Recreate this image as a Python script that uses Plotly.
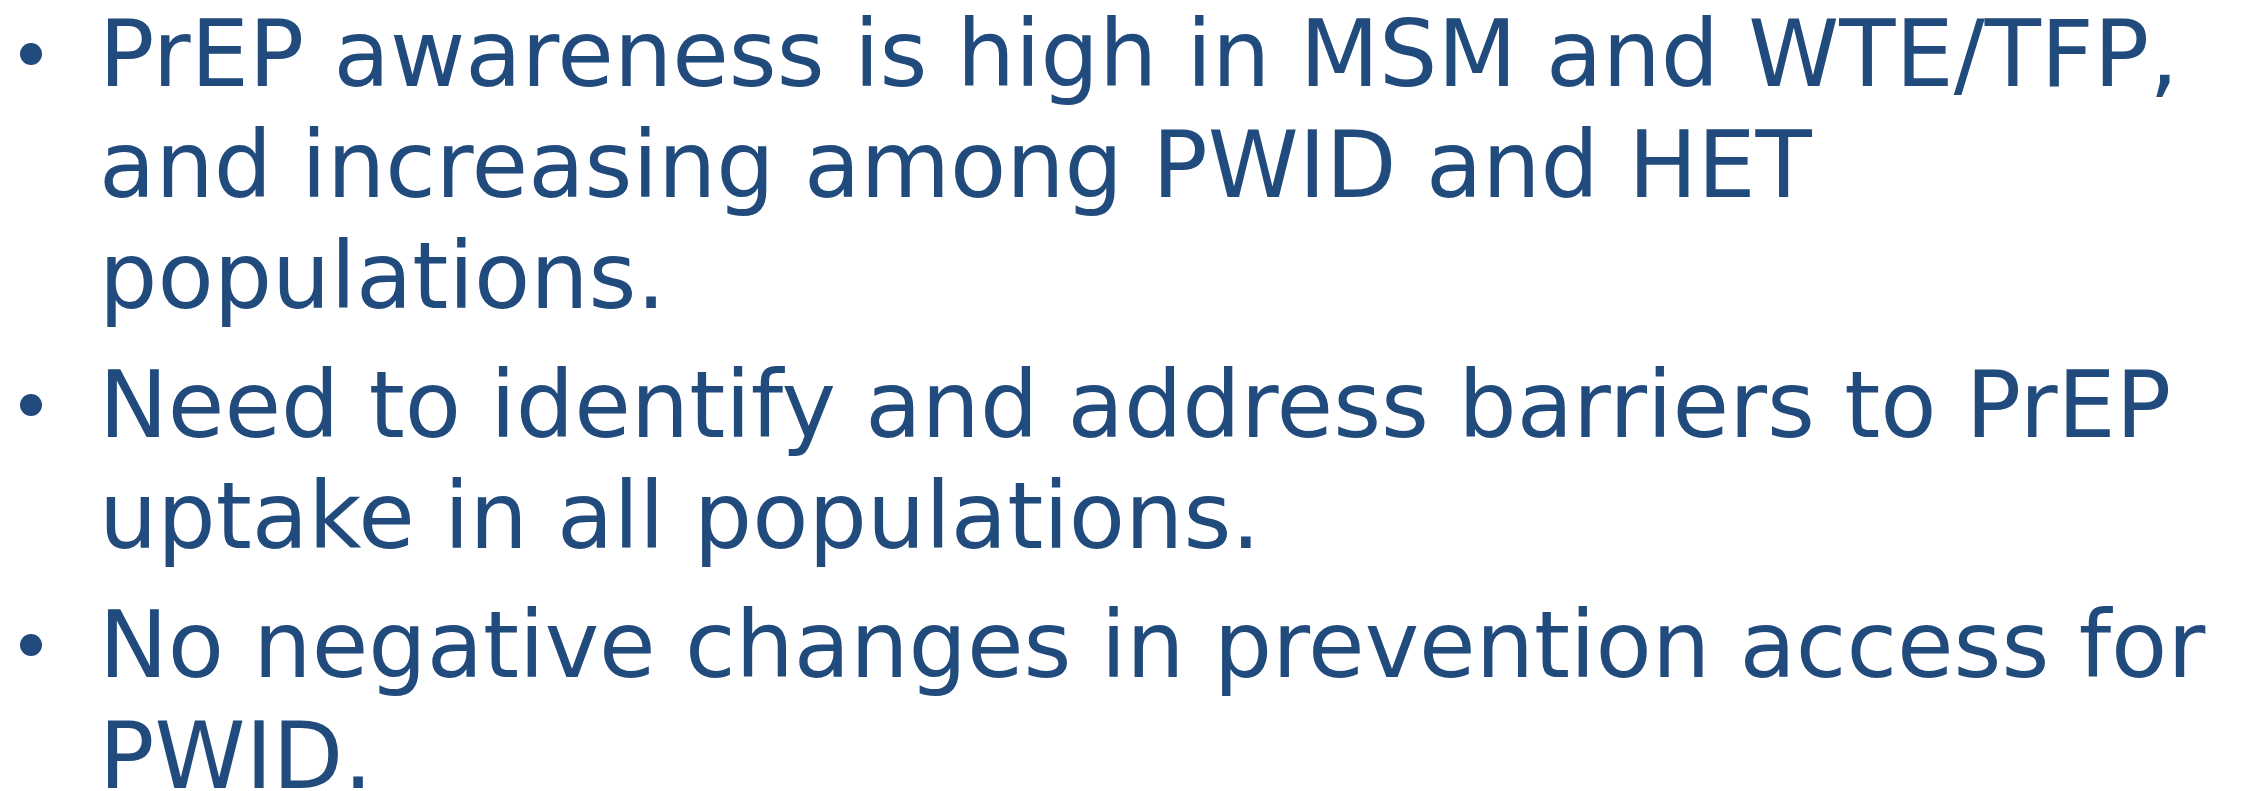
import plotly.graph_objects as go

# ---- content ----
bullet_lines = [
    ["PrEP awareness is high in MSM and WTE/TFP,",
     "and increasing among PWID and HET",
     "populations."],
    ["Need to identify and address barriers to PrEP",
     "uptake in all populations."],
    ["No negative changes in prevention access for",
     "PWID."],
]

# ---- layout constants (pixels) ----
W, H = 2241, 791
TEXT_X = 98
BULLET_X = 31
FIRST_BASELINE = 86
LINE_STEP = 111
PARA_GAP = 18
FONT_SIZE = 92
COLOR = "#214A7D"
FONT = "DejaVu Sans"
BASELINE_OFFSET = 0.25 * FONT_SIZE  # baseline distance above annotation bottom
BULLET_RISE = 32


def px_x(v):
    return v / W


def px_y(v):
    return 1 - v / H


fig = go.Figure()

bx, by = [], []
y = FIRST_BASELINE
annotations = []
for para in bullet_lines:
    bx.append(BULLET_X)
    by.append(y - BULLET_RISE)
    for line in para:
        annotations.append(dict(
            x=px_x(TEXT_X), y=px_y(y + BASELINE_OFFSET), xref="paper", yref="paper",
            text=line, showarrow=False, xanchor="left", yanchor="bottom",
            borderpad=0, font=dict(family=FONT, size=FONT_SIZE, color=COLOR),
        ))
        y += LINE_STEP
    y += PARA_GAP

fig.add_trace(go.Scatter(
    x=bx, y=by, mode="markers",
    marker=dict(size=22, color=COLOR, line=dict(width=0)),
    hoverinfo="skip", showlegend=False, cliponaxis=False,
))

fig.update_layout(
    width=W, height=H,
    margin=dict(l=0, r=0, t=0, b=0),
    paper_bgcolor="white", plot_bgcolor="white",
    xaxis=dict(range=[0, W], visible=False, fixedrange=True),
    yaxis=dict(range=[H, 0], visible=False, fixedrange=True),
    annotations=annotations,
    showlegend=False,
)

fig.write_html("out.html",
               config={"displayModeBar": False, "staticPlot": True},
               post_script="document.body.style.margin='0';document.body.style.overflow='hidden';")
